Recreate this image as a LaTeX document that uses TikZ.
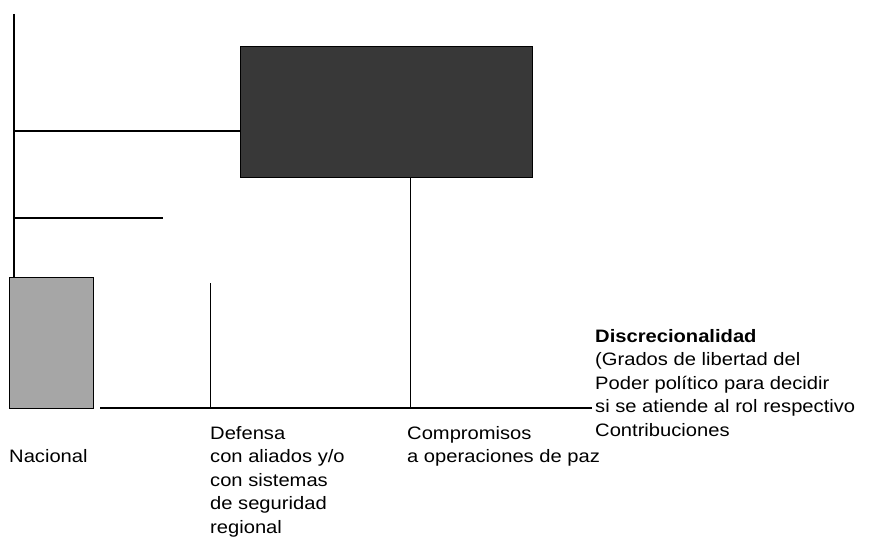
\documentclass[tikz,border=0pt]{standalone}
\usepackage{fontspec}
\setmainfont{Liberation Sans}[FakeStretch=1.12]
\tikzset{
    lbl/.style={anchor=north west, align=left, inner sep=0pt, font=\fontsize{18}{23.5}\selectfont},
    axis/.style={line width=1.6pt},
    rule/.style={line width=1pt},
    bloque/.style={draw, line width=1.2pt, inner sep=0pt, anchor=north west},
}
\begin{document}
\begin{tikzpicture}[x=1pt,y=-1pt]
        \useasboundingbox (0,0) rectangle (891,543);
        \node[bloque, fill=black!78, minimum width=292pt, minimum height=131pt] (paz) at (240,46) {};
        \node[bloque, fill=black!35, minimum width=84pt, minimum height=131pt] (nacional) at (9,277) {};
        \coordinate (top) at (14,14);
        \coordinate (ejeA) at (14,131);
        \coordinate (ejeB) at (14,218);
        \coordinate (finB) at (163,218);
        \coordinate (inicio) at (100,408);
        \coordinate (fin) at (592,408);
        \coordinate (defensa) at (210,408);
        \coordinate (compromiso) at (410,408);
        \draw[axis] (top) -- (top |- nacional.north);
        \draw[axis] (ejeA) -- (ejeA -| paz.west);
        \draw[axis] (ejeB) -- (finB);
        \draw[rule] (defensa) -- ++(0,-125);
        \draw[rule] (compromiso) -- (compromiso |- paz.south);
        \draw[axis] (inicio) -- (fin);
        \node[lbl] (tNacional) at (9,449) {Nacional};
        \node[lbl] (tDefensa) at (210,426) {Defensa\\con aliados y/o\\con sistemas\\de seguridad\\regional};
        \node[lbl] (tCompromiso) at (407,426) {Compromisos\\a operaciones de paz};
        \node[lbl] (tDiscrecion) at (595,329) {\bfseries Discrecionalidad\\(Grados de libertad del\\Poder político para decidir\\si se atiende al rol respectivo\\Contribuciones};
    \end{tikzpicture}
\end{document}
